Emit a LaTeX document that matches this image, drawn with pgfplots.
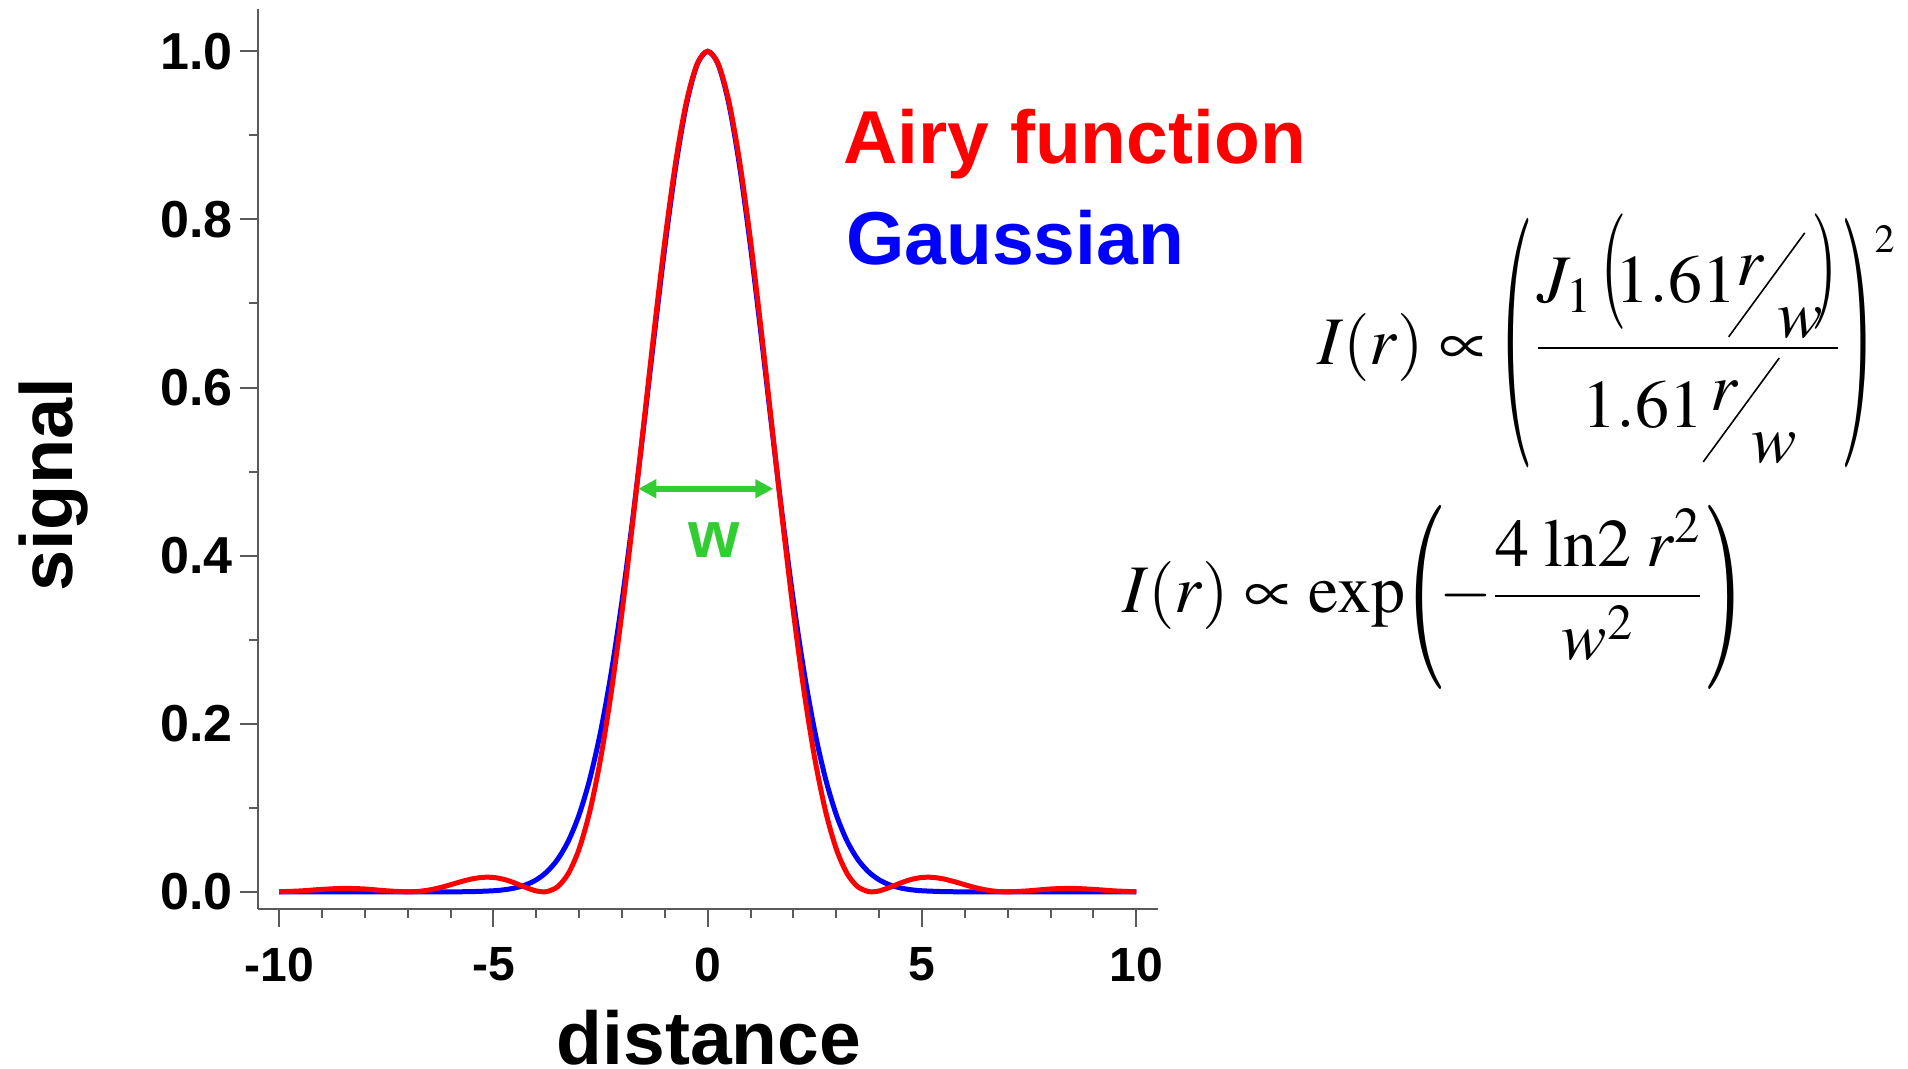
\documentclass[border=0pt]{standalone}
\usepackage{mathptmx}
\usepackage[no-math]{fontspec}
\setmainfont{Liberation Sans}
\usepackage{graphicx}
\usepackage{pgfplots}
\pgfplotsset{compat=1.18}
\usetikzlibrary{arrows.meta}
\definecolor{airyred}{RGB}{255,0,0}
\definecolor{gaussblue}{RGB}{0,0,255}
\definecolor{wgreen}{RGB}{50,205,50}
\definecolor{axisgray}{RGB}{90,90,90}
\newcommand{\rw}{\makebox[41.5pt][l]{\rlap{\hspace*{-4pt}\raisebox{-17.5pt}{\rotatebox{53.8}{\rule{64.4pt}{0.8pt}}}}\rlap{\raisebox{8.5pt}{$r$}}\hspace*{20.5pt}\raisebox{-17.5pt}{$w$}}}
% #1 horizontal scale, #2 vertical scale, #3 raise, #4 delimiter
\newcommand{\sparen}[4]{\raisebox{#3}{\scalebox{#1}[#2]{$#4$}}}
\begin{document}
\begin{tikzpicture}
\useasboundingbox (0,0) rectangle (954pt,534.5pt);
\begin{axis}[
  at={(128.85pt,80.15pt)}, anchor=south west,
  scale only axis, width=450pt, height=449.7pt,
  xmin=-10.5, xmax=10.5, ymin=-0.02, ymax=1.05,
  axis x line*=bottom, axis y line*=left,
  axis line style={axisgray, line width=1pt},
  xtick={-10,-5,0,5,10}, xticklabels={-10,-5,0,5,10},
  minor xtick={-9,-8,-7,-6,-4,-3,-2,-1,1,2,3,4,6,7,8,9},
  ytick={0,0.2,0.4,0.6,0.8,1}, yticklabels={0.0,0.2,0.4,0.6,0.8,1.0},
  minor ytick={0.1,0.3,0.5,0.7,0.9},
  tick align=outside, major tick length=9pt, minor tick length=4.5pt,
  every tick/.append style={axisgray, line width=1pt},
  every minor tick/.append style={axisgray, line width=1pt},
  xticklabel style={font=\fontsize{24}{24}\selectfont\bfseries, yshift=-7pt},
  yticklabel style={font=\fontsize{26}{26}\selectfont\bfseries},
  clip=false,
]
\addplot[gaussblue, line width=2.5pt, smooth] coordinates {
(-10,0) (-9,0) (-8,0) (-7,0) (-6,0.00007) (-5.5,0.00033) (-5,0.00132) (-4.75,0.00251)
(-4.5,0.00464) (-4.25,0.00829) (-4,0.01434) (-3.75,0.02397) (-3.5,0.03877) (-3.25,0.06067)
(-3,0.09183) (-2.75,0.13447) (-2.5,0.19048) (-2.25,0.26102) (-2,0.34602) (-1.75,0.44374)
(-1.5,0.55049) (-1.25,0.66064) (-1,0.76697) (-0.75,0.86136) (-0.5,0.93582) (-0.25,0.98356)
(0,1)
(0.25,0.98356) (0.5,0.93582) (0.75,0.86136) (1,0.76697) (1.25,0.66064) (1.5,0.55049)
(1.75,0.44374) (2,0.34602) (2.25,0.26102) (2.5,0.19048) (2.75,0.13447) (3,0.09183)
(3.25,0.06067) (3.5,0.03877) (3.75,0.02397) (4,0.01434) (4.25,0.00829) (4.5,0.00464)
(4.75,0.00251) (5,0.00132) (5.5,0.00033) (6,0.00007) (7,0) (8,0) (9,0) (10,0)
};
\addplot[airyred, line width=2.5pt, smooth] coordinates {
(-10,0.00008) (-9.5,0.00115) (-9,0.00297) (-8.5,0.00413) (-8,0.00344) (-7.5,0.00130)
(-7.0156,0) (-6.75,0.00057) (-6.5,0.00224) (-6.25,0.00499) (-6,0.00851) (-5.75,0.01223)
(-5.5,0.01542) (-5.25,0.01727) (-5,0.01717) (-4.75,0.01482) (-4.5,0.01055) (-4.25,0.00536)
(-4,0.00109) (-3.8317,0) (-3.75,0.00031) (-3.5,0.00616) (-3.25,0.02202) (-3,0.05109)
(-2.75,0.09597) (-2.5,0.15815) (-2.25,0.23761) (-2,0.33261) (-1.75,0.43962) (-1.5,0.55341)
(-1.25,0.66749) (-1,0.77458) (-0.75,0.86735) (-0.5,0.93910) (-0.25,0.98448)
(0,1)
(0.25,0.98448) (0.5,0.93910) (0.75,0.86735) (1,0.77458) (1.25,0.66749) (1.5,0.55341)
(1.75,0.43962) (2,0.33261) (2.25,0.23761) (2.5,0.15815) (2.75,0.09597) (3,0.05109)
(3.25,0.02202) (3.5,0.00616) (3.75,0.00031) (3.8317,0) (4,0.00109) (4.25,0.00536)
(4.5,0.01055) (4.75,0.01482) (5,0.01717) (5.25,0.01727) (5.5,0.01542) (5.75,0.01223)
(6,0.00851) (6.25,0.00499) (6.5,0.00224) (6.75,0.00057) (7.0156,0) (7.5,0.00130)
(8,0.00344) (8.5,0.00413) (9,0.00297) (9.5,0.00115) (10,0.00008)
};
\draw[wgreen, line width=3pt, {Triangle[length=9pt,width=9pt]}-{Triangle[length=9pt,width=9pt]}]
  (axis cs:-1.62,0.4796) -- (axis cs:1.53,0.4796);
\node[wgreen, font=\fontsize{33}{33}\selectfont\bfseries, inner sep=0pt] at (axis cs:0.16,0.418) {w};
\end{axis}
\node[anchor=base, rotate=90, inner sep=0pt, font=\fontsize{37}{37}\selectfont\bfseries] at (36pt,292pt) {signal};
\node[anchor=base, inner sep=0pt, font=\fontsize{37.5}{37.5}\selectfont\bfseries] at (354.5pt,2pt) {distance};
\node[anchor=base west, inner sep=0pt, airyred, font=\fontsize{37.5}{37.5}\selectfont\bfseries] at (421.5pt,452.5pt) {Airy function};
\node[anchor=base west, inner sep=0pt, gaussblue, font=\fontsize{37.5}{37.5}\selectfont\bfseries] at (423pt,402pt) {Gaussian};
\node[anchor=base west, inner sep=0pt, font=\fontsize{34}{40}\selectfont] at (658.5pt,352pt)
  {$\displaystyle I(r)\propto\mkern-1mu\sparen{1.3}{3.67}{-20.3pt}{(}\kern1pt\frac{J_1\mkern2mu\sparen{1}{1.7}{0.9pt}{(}\mkern-3mu1.61\rw\mkern-2mu\sparen{1}{1.7}{0.9pt}{)}}{1.61\,\rw}\sparen{1.3}{3.67}{-20.3pt}{)}\raisebox{56pt}{\fontsize{20}{20}\selectfont$2$}$};
\node[anchor=base west, inner sep=0pt, font=\fontsize{34}{40}\selectfont] at (561pt,228pt)
  {$\displaystyle I(r)\propto\mathrm{exp}\sparen{1.6}{2.71}{-15.4pt}{(}\mkern-2mu{-}\frac{4\;\mathrm{ln}2\;r^{2}}{w^{2}}\sparen{1.6}{2.71}{-15.4pt}{)}$};
\end{tikzpicture}
\end{document}
